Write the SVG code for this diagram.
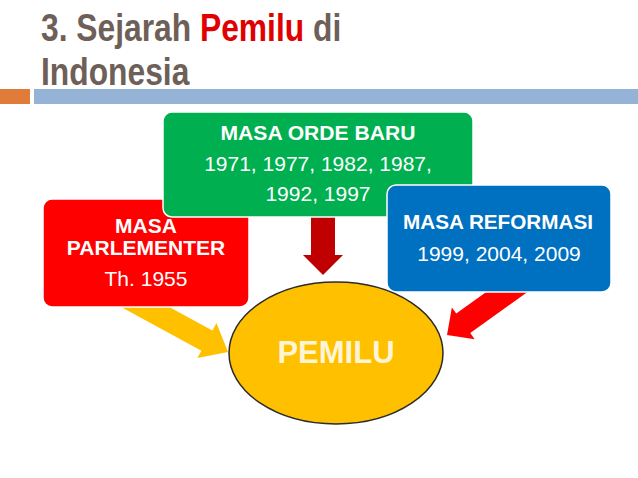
<svg xmlns="http://www.w3.org/2000/svg" width="638" height="478" viewBox="0 0 638 478">
<style>
.title{font-family:"Liberation Sans",Arial,sans-serif;font-weight:bold;font-size:39px;fill:#6E5F58}
.box{stroke:#FFFFFF;stroke-width:1.5}
.b{font-family:"Liberation Sans",Arial,sans-serif;font-weight:bold;font-size:21px;fill:#FFFFFF;text-anchor:middle}
.r{font-family:"Liberation Sans",Arial,sans-serif;font-size:21px;fill:#FFFFFF;text-anchor:middle}
</style>
<rect width="638" height="478" fill="#FFFFFF"/>
<g id="title">
<g transform="translate(41,0) scale(0.815,1)">
<text class="title" x="0" y="41">3. Sejarah <tspan style="fill:#E00000">Pemilu</tspan> di</text>
<text class="title" x="0" y="85">Indonesia</text>
</g>
<rect x="0" y="89" width="30" height="15" fill="#E07B39"/>
<rect x="34" y="89" width="604" height="15" fill="#95B3D7"/>
</g>
<g id="connectors">
<g transform="translate(228,352) rotate(28.5)"><polygon points="0,0 -24,-20 -24,-11.5 -140,-11.5 -140,11.5 -24,11.5 -24,20" fill="#FFC000"/></g>
<polygon points="311,205 335,205 335,255 343,255 323,275 303,255 311,255" fill="#C00000"/>
<g transform="translate(447,335) rotate(144.3)"><polygon points="0,0 -20,-19.5 -20,-12 -100,-12 -100,12 -20,12 -20,19.5" fill="#FF0000"/></g>
</g>
<g id="node-parlementer">
<rect class="box" x="43" y="199" width="206" height="108" rx="9" fill="#FF0000"/>
<text class="b" x="146" y="233">MASA</text>
<text class="b" x="146" y="255">PARLEMENTER</text>
<text class="r" x="146" y="286">Th. 1955</text>
</g>
<g id="node-ordebaru">
<rect class="box" x="163" y="112" width="310" height="105" rx="9" fill="#00B050"/>
<text class="b" x="318" y="140" textLength="195" lengthAdjust="spacingAndGlyphs">MASA ORDE BARU</text>
<text class="r" x="318" y="171">1971, 1977, 1982, 1987,</text>
<text class="r" x="318" y="201">1992, 1997</text>
</g>
<g id="node-reformasi">
<rect class="box" x="387" y="185" width="224" height="107" rx="9" fill="#0070C0"/>
<text class="b" x="498" y="229" textLength="190" lengthAdjust="spacingAndGlyphs">MASA REFORMASI</text>
<text class="r" x="499" y="261">1999, 2004, 2009</text>
</g>
<g id="node-pemilu">
<ellipse cx="336" cy="353" rx="107" ry="71" fill="#FFC000" stroke="#2A2A2A" stroke-width="1.5"/>
<text x="336" y="363" font-family="Liberation Sans, Arial, sans-serif" font-weight="bold" font-size="31" fill="#FFF5D6" text-anchor="middle">PEMILU</text>
</g>
</svg>
